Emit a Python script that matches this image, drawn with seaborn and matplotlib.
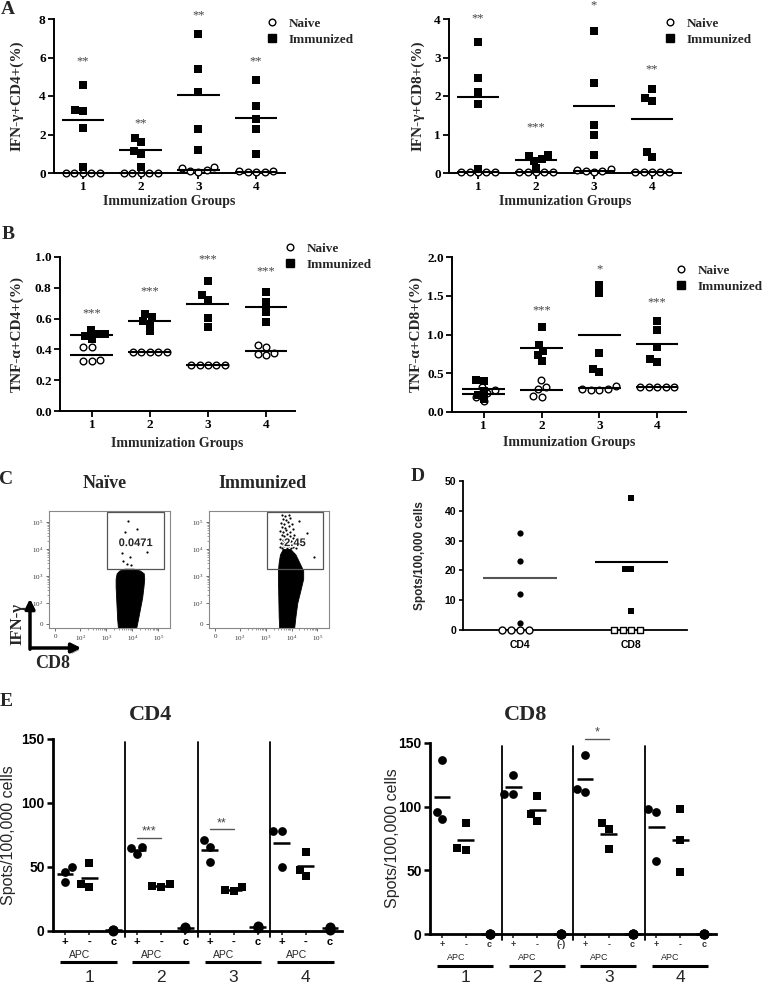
import warnings
warnings.filterwarnings("ignore")
import numpy as np
import pandas as pd
import matplotlib
matplotlib.use("Agg")
import matplotlib.pyplot as plt
import matplotlib.transforms as mtransforms
import matplotlib.patheffects as pe
from matplotlib.lines import Line2D
from matplotlib.patches import Rectangle, FancyArrowPatch
import seaborn as sns

sns.set_theme(style="ticks")
SERIF = ["Liberation Serif", "DejaVu Serif"]
SANS = ["Liberation Sans", "DejaVu Sans"]
plt.rcParams["font.family"] = SERIF
plt.rcParams["mathtext.default"] = "regular"

# ---------------- data ----------------
GROUPS = ["1", "2", "3", "4"]

# Panel A : IFN-gamma+ CD4 / CD8 (%)
A_CD4_NAIVE = [[0.02, 0.02, 0.02, 0.02, 0.02], [0.02, 0.02, 0.02, 0.02, 0.02],
               [0.15, 0.30, 0.25, 0.05, 0.10], [0.05, 0.08, 0.10, 0.06, 0.05]]
A_CD4_IMM = [[4.55, 3.23, 3.26, 2.33, 0.33], [1.63, 1.84, 1.16, 0.97, 0.33],
             [7.22, 5.42, 4.20, 2.29, 1.18], [4.81, 3.50, 2.81, 2.29, 0.99]]
A_CD4_SIG = ["**", "**", "**", "**"]
A_CD4_SIG_Y = [5.8, 2.6, 8.2, 5.8]

A_CD8_NAIVE = [[0.02, 0.02, 0.02, 0.02, 0.02], [0.02, 0.02, 0.02, 0.02, 0.02],
               [0.08, 0.10, 0.02, 0.05, 0.05], [0.02, 0.02, 0.02, 0.02, 0.02]]
A_CD8_IMM = [[3.40, 2.46, 2.11, 1.78, 0.10], [0.47, 0.37, 0.32, 0.45, 0.14],
             [3.68, 2.35, 1.25, 0.99, 0.46], [2.18, 1.88, 1.96, 0.55, 0.41]]
A_CD8_SIG = ["**", "***", "*", "**"]
A_CD8_SIG_Y = [4.03, 1.19, 4.35, 2.68]

# Panel B : TNF-alpha+ CD4 / CD8 (%)
B_CD4_NAIVE = [[0.417, 0.417, 0.326, 0.322, 0.330], [0.38, 0.38, 0.38, 0.38, 0.38],
               [0.30, 0.30, 0.30, 0.30, 0.30], [0.426, 0.417, 0.378, 0.363, 0.372]]
B_CD4_IMM = [[0.502, 0.487, 0.500, 0.467, 0.526], [0.630, 0.567, 0.583, 0.611, 0.517],
             [0.843, 0.724, 0.754, 0.604, 0.543], [0.774, 0.709, 0.641, 0.580]]
B_CD4_SIG = ["***", "***", "***", "***"]
B_CD4_SIG_Y = [0.637, 0.778, 0.985, 0.909]

B_CD8_NAIVE = [[0.19, 0.145, 0.28, 0.32, 0.24], [0.408, 0.292, 0.326, 0.197, 0.206],
               [0.34, 0.30, 0.29, 0.30, 0.29], [0.32, 0.32, 0.32, 0.32, 0.32]]
B_CD8_IMM = [[0.40, 0.41, 0.27, 0.22, 0.17], [1.094, 0.863, 0.79, 0.734, 0.657],
             [1.64, 1.54, 0.755, 0.55, 0.51], [1.17, 1.06, 0.84, 0.68, 0.65]]
B_CD8_SIG = ["", "***", "*", "***"]
B_CD8_SIG_Y = [0.0, 1.31, 1.845, 1.414]

# Panel C : flow cytometry (axis units = decades; CD8 on x, IFN-gamma on y)
FLOW_X_TICKS = [1.04, 2, 3, 4, 5]
FLOW_Y_TICKS = [1.22, 2, 3, 4, 5]
FLOW_TICK_LABELS = ["0", "$10^2$", "$10^3$", "$10^4$", "$10^5$"]
NAIVE_BLOB_Y = [1.07, 1.4, 1.8, 2.2, 2.6, 2.9, 3.1, 3.2, 3.27]
NAIVE_BLOB_L = [3.45, 3.42, 3.40, 3.38, 3.36, 3.36, 3.40, 3.50, 3.70]
NAIVE_BLOB_R = [4.15, 4.22, 4.30, 4.38, 4.43, 4.46, 4.44, 4.30, 4.05]
NAIVE_EVENTS_X = [3.85, 3.72, 3.62, 3.92, 3.78, 4.55, 4.20, 3.95, 3.66]
NAIVE_EVENTS_Y = [5.05, 4.62, 3.85, 3.70, 3.45, 3.90, 4.75, 3.40, 3.55]
NAIVE_GATE = [3.04, 5.23, 3.26, 5.37]
NAIVE_PCT = "0.0471"
IMM_BLOB_Y = [1.07, 1.5, 2.0, 2.5, 2.9, 3.2, 3.5, 3.8, 4.0]
IMM_BLOB_L = [3.52, 3.50, 3.49, 3.48, 3.47, 3.47, 3.50, 3.55, 3.66]
IMM_BLOB_R = [4.10, 4.15, 4.22, 4.35, 4.45, 4.45, 4.30, 4.15, 3.95]
IMM_EVENTS_X = [3.55, 3.63, 3.71, 3.82, 3.89, 3.97, 4.07, 4.16, 3.58, 3.67, 3.74, 3.85,
                3.93, 4.01, 4.12, 3.54, 3.65, 3.76, 3.87, 3.96, 4.06, 3.61, 3.69, 3.83,
                3.92, 4.09, 3.57, 3.68, 3.79, 3.95, 3.63, 3.74, 3.91, 4.04, 3.58, 3.72,
                3.86, 4.00, 3.66, 3.80, 3.95, 3.62, 3.76, 3.90, 4.85, 4.60, 4.30]
IMM_EVENTS_Y = [4.07, 4.03, 4.10, 4.05, 4.12, 4.02, 4.09, 4.04, 4.22, 4.18, 4.26, 4.20,
                4.24, 4.17, 4.21, 4.38, 4.33, 4.41, 4.36, 4.31, 4.39, 4.52, 4.49, 4.55,
                4.47, 4.51, 4.66, 4.63, 4.70, 4.64, 4.81, 4.78, 4.84, 4.76, 4.96, 4.93,
                4.99, 4.91, 5.12, 5.08, 5.15, 5.26, 5.22, 5.28, 3.70, 4.60, 5.05]
IMM_GATE = [3.04, 5.23, 3.26, 5.37]
IMM_PCT = "2.45"

# Panel D : ELISPOT responders (filled) / non-responders (open, at 0)
D_CELLS = ["CD4", "CD8"]
D_CD4_POS = [32.7, 23.0, 12.0, 2.3]
D_CD4_NEG = [0, 0, 0, 0]
D_CD8_POS = [44.3, 20.5, 20.5, 6.3]
D_CD8_NEG = [0, 0, 0, 0]

# Panel E : ELISPOT with (+) / without (-) APC and control (c)
E_CD4_PLUS = [[50, 38, 46], [66, 65, 60], [71, 65.5, 54], [78, 78, 50]]
E_CD4_MINUS = [[53, 34, 37], [37, 34, 35], [34, 31, 32], [62, 43, 48]]
E_CD4_CTRL = [[0.5, 1, 0], [2, 3, 2], [3, 2, 4], [2, 3, 1]]
E_CD4_TICKS = ["+", "-", "c"] * 4
E_CD4_SIG = [(1, "***", 72.8, 78.0), (2, "**", 79.7, 84.4)]

E_CD8_PLUS = [[137, 95.6, 90], [125, 110.3, 110.3], [140.8, 111.3, 114.2], [98, 95.9, 57.5]]
E_CD8_MINUS = [[86.8, 65.8, 67.9], [108.4, 88.8, 94], [86.8, 82.3, 66.4], [98, 74.2, 48.3]]
E_CD8_CTRL = [[0, 0, 0], [0, 0, 0], [0, 0, 0], [0, 0, 0]]
E_CD8_TICKS = ["+", "-", "c", "+", "-", "(-)", "+", "-", "c", "+", "-", "c"]
E_CD8_SIG = [(2, "*", 153.0, 158.0)]

# ---------------- figure ----------------
W, H = 766, 985
fig = plt.figure(figsize=(W / 100, H / 100), dpi=100)


def px_axes(l, t, r, b):
    return fig.add_axes([l / W, 1 - b / H, (r - l) / W, (b - t) / H])


def fx(x):
    return x / W


def fy(y):
    return 1 - y / H


def ax_xfrac(ax, xpx):
    pos = ax.get_position()
    return (xpx / W - pos.x0) / pos.width


def ax_yfrac(ax, ypx):
    pos = ax.get_position()
    return ((1 - ypx / H) - pos.y0) / pos.height


def letter(x, y, s):
    fig.text(fx(x), fy(y), s, fontsize=14, fontweight="bold", family=SERIF,
             ha="center", va="center")


MS = 4.8


def dot_panel(rect, naive, imm, sig, sig_y, ylim, yticks, ytl, xlim, ylabel,
              ylabel_x, xlabel_y, legend_xy):
    ax = px_axes(*rect)
    rows = []
    for g, vals in zip(GROUPS, naive):
        rows += [{"group": g, "value": v, "status": "Naive"} for v in vals]
    for g, vals in zip(GROUPS, imm):
        rows += [{"group": g, "value": v, "status": "Immunized"} for v in vals]
    df = pd.DataFrame(rows)
    ax.set_ylim(*ylim)
    sns.swarmplot(data=df[df.status == "Naive"], x="group", y="value", order=GROUPS,
                  marker="o", color="white", edgecolor="black", linewidth=1.0,
                  size=MS, ax=ax)
    sns.swarmplot(data=df[df.status == "Immunized"], x="group", y="value", order=GROUPS,
                  marker="s", color="black", edgecolor="black", linewidth=0,
                  size=MS + 0.3, ax=ax)
    for c in ax.collections:
        c.set_clip_on(False)
        c.set_zorder(4)
    means = df.groupby(["status", "group"])["value"].mean()
    for (status, g), m in means.items():
        i = GROUPS.index(g)
        ax.hlines(m, i - 0.37, i + 0.37, color="black", lw=1.5, zorder=5, clip_on=False)
    for i, (s, y) in enumerate(zip(sig, sig_y)):
        if s:
            ax.text(i, y, s, ha="center", va="center", fontsize=9, color="#444",
                    family=SERIF, clip_on=False)
    ax.set_xlim(*xlim)
    ax.set_ylim(*ylim)
    ax.set_yticks(yticks)
    ax.set_yticklabels(ytl)
    sns.despine(ax=ax)
    for sp in ("left", "bottom"):
        ax.spines[sp].set_linewidth(1.4)
        ax.spines[sp].set_color("black")
    ax.tick_params(axis="both", width=1.3, length=4, labelsize=9.5, pad=2, colors="black")
    for lab in ax.get_xticklabels() + ax.get_yticklabels():
        lab.set_fontweight("bold")
        lab.set_family(SERIF)
    ax.set_ylabel(ylabel, fontsize=11, fontweight="bold", family=SERIF)
    ax.yaxis.set_label_coords(ax_xfrac(ax, ylabel_x), 0.5)
    ax.yaxis.label.set_va("center")
    ax.set_xlabel("Immunization Groups", fontsize=10, fontweight="bold", family=SERIF)
    ax.xaxis.set_label_coords(0.5, ax_yfrac(ax, xlabel_y))
    ax.xaxis.label.set_va("center")
    handles = [Line2D([], [], marker="o", ls="none", mfc="white", mec="black", mew=1.0,
                      ms=MS, label="Naive"),
               Line2D([], [], marker="s", ls="none", mfc="black", mec="black", ms=MS + 0.3,
                      label="Immunized")]
    mx, my = legend_xy
    ax.legend(handles=handles, loc="upper left", bbox_to_anchor=(fx(mx - 7), fy(my - 4.5)),
              bbox_transform=fig.transFigure, frameon=False, borderpad=0,
              borderaxespad=0, handlelength=1.0, handletextpad=0.8, labelspacing=0.28,
              prop={"family": SERIF, "weight": "bold", "size": 9.5})
    return ax


# ---- Panel A ----
dot_panel((54, 19, 285, 173), A_CD4_NAIVE, A_CD4_IMM, A_CD4_SIG, A_CD4_SIG_Y, (0, 8),
          [0, 2, 4, 6, 8], ["0", "2", "4", "6", "8"], (-0.5, 3.5), "IFN-γ+CD4+(%)",
          17, 202, (272, 22))
dot_panel((449, 19, 681, 173), A_CD8_NAIVE, A_CD8_IMM, A_CD8_SIG, A_CD8_SIG_Y, (0, 4),
          [0, 1, 2, 3, 4], ["0", "1", "2", "3", "4"], (-0.5, 3.5), "IFN-γ+CD8+(%)",
          418, 202, (670, 22))
letter(8, 10, "A")

# ---- Panel B ----
dot_panel((60, 257, 295, 411), B_CD4_NAIVE, B_CD4_IMM, B_CD4_SIG, B_CD4_SIG_Y, (0, 1.0),
          [0, 0.2, 0.4, 0.6, 0.8, 1.0], ["0.0", "0.2", "0.4", "0.6", "0.8", "1.0"],
          (-0.55, 3.5), "TNF-α+CD4+(%)", 17, 443, (290, 247))
dot_panel((452, 257, 686, 412), B_CD8_NAIVE, B_CD8_IMM, B_CD8_SIG, B_CD8_SIG_Y, (0, 2.0),
          [0, 0.5, 1.0, 1.5, 2.0], ["0.0", "0.5", "1.0", "1.5", "2.0"],
          (-0.55, 3.5), "TNF-α+CD8+(%)", 416, 443, (681, 269))
letter(8, 235, "B")


# ---- Panel C ----
def flow_panel(rect, by, bl, br, ex, ey, gate, pct, title, title_x):
    ax = px_axes(*rect)
    ax.fill_betweenx(by, bl, br, color="black", lw=0.6, zorder=2)
    sns.scatterplot(x=ex, y=ey, s=2.5, color="black", linewidth=0, ax=ax, zorder=2,
                    legend=False)
    ax.add_patch(Rectangle((gate[0], gate[2]), gate[1] - gate[0], gate[3] - gate[2],
                           fill=False, ec="#555", lw=0.9, zorder=3))
    ax.text((gate[0] + gate[1]) / 2, 4.22, pct, ha="center", va="center", fontsize=8,
            fontweight="bold", family=SANS, zorder=4,
            path_effects=[pe.withStroke(linewidth=2, foreground="white")])
    ax.set_xlim(0.8, 5.45)
    ax.set_ylim(1.07, 5.41)
    ax.set_xticks(FLOW_X_TICKS)
    ax.set_xticklabels(FLOW_TICK_LABELS)
    ax.set_yticks(FLOW_Y_TICKS)
    ax.set_yticklabels(FLOW_TICK_LABELS)
    minor = [d + np.log10(k) for d in (2, 3, 4) for k in range(2, 10)]
    ax.set_xticks(minor, minor=True)
    ax.set_yticks(minor, minor=True)
    ax.tick_params(axis="both", which="major", length=2.5, width=0.5, labelsize=5,
                   colors="#333", pad=1.5)
    ax.tick_params(axis="both", which="minor", length=1.2, width=0.4, colors="#555")
    for sp in ax.spines.values():
        sp.set_color("#888")
        sp.set_linewidth(0.8)
    ax.set_xlabel("")
    ax.set_ylabel("")
    fig.text(fx(title_x), fy(484), title, fontsize=13, fontweight="bold", family=SERIF,
             ha="center", va="center")
    return ax


flow_panel((49, 511, 170, 628), NAIVE_BLOB_Y, NAIVE_BLOB_L, NAIVE_BLOB_R,
           NAIVE_EVENTS_X, NAIVE_EVENTS_Y, NAIVE_GATE, NAIVE_PCT, "Naïve", 105)
flow_panel((209, 511, 329, 628), IMM_BLOB_Y, IMM_BLOB_L, IMM_BLOB_R,
           IMM_EVENTS_X, IMM_EVENTS_Y, IMM_GATE, IMM_PCT, "Immunized", 262)
letter(6, 479, "C")

shadow = [pe.SimplePatchShadow(offset=(1.5, -1.5), alpha=0.35), pe.Normal()]
fig.add_artist(FancyArrowPatch((fx(30), fy(652)), (fx(30), fy(596)),
                               transform=fig.transFigure, arrowstyle="-|>",
                               mutation_scale=14, lw=2.5, color="black",
                               path_effects=shadow))
fig.add_artist(FancyArrowPatch((fx(28), fy(648)), (fx(84), fy(648)),
                               transform=fig.transFigure, arrowstyle="-|>",
                               mutation_scale=14, lw=2.5, color="black",
                               path_effects=shadow))
fig.text(fx(17), fy(624), "IFN-γ", rotation=90, fontsize=12, fontweight="bold",
         family=SERIF, ha="center", va="center")
fig.text(fx(53), fy(664), "CD8", fontsize=13, fontweight="bold", family=SERIF,
         ha="center", va="center")

# ---- Panel D ----
axD = px_axes(463, 481, 687, 630)
dfD = pd.DataFrame(
    [{"cell": "CD4", "value": v, "resp": True} for v in D_CD4_POS]
    + [{"cell": "CD4", "value": v, "resp": False} for v in D_CD4_NEG]
    + [{"cell": "CD8", "value": v, "resp": True} for v in D_CD8_POS]
    + [{"cell": "CD8", "value": v, "resp": False} for v in D_CD8_NEG])
axD.set_ylim(0, 50)
sns.swarmplot(data=dfD[(dfD.cell == "CD4") & dfD.resp], x="cell", y="value", order=D_CELLS,
              marker="o", color="black", linewidth=0, size=4.5, ax=axD)
sns.swarmplot(data=dfD[(dfD.cell == "CD4") & ~dfD.resp], x="cell", y="value", order=D_CELLS,
              marker="o", color="white", edgecolor="black", linewidth=1.0, size=5.0, ax=axD)
sns.swarmplot(data=dfD[(dfD.cell == "CD8") & dfD.resp], x="cell", y="value", order=D_CELLS,
              marker="s", color="black", linewidth=0, size=4.6, ax=axD)
sns.swarmplot(data=dfD[(dfD.cell == "CD8") & ~dfD.resp], x="cell", y="value", order=D_CELLS,
              marker="s", color="white", edgecolor="black", linewidth=1.0, size=4.8, ax=axD)
for c in axD.collections:
    c.set_clip_on(False)
    c.set_zorder(4)
d_means = dfD[dfD.resp].groupby("cell")["value"].mean()
for i, cell in enumerate(D_CELLS):
    axD.hlines(d_means[cell], i - 0.33, i + 0.33, color="#555" if cell == "CD4" else "black",
               lw=1.5, zorder=5)
axD.set_xlim(-0.51, 1.5)
axD.set_ylim(0, 50)
axD.set_yticks([0, 10, 20, 30, 40, 50])
sns.despine(ax=axD)
for sp in ("left", "bottom"):
    axD.spines[sp].set_linewidth(1.3)
    axD.spines[sp].set_color("black")
axD.tick_params(axis="y", width=1.2, length=3, labelsize=7.5, pad=2, colors="black")
axD.tick_params(axis="x", length=0, labelsize=7.5, pad=7, colors="black")
for lab in axD.get_xticklabels() + axD.get_yticklabels():
    lab.set_fontweight("bold")
    lab.set_family(SANS)
axD.set_xlabel("")
axD.set_ylabel("Spots/100,000 cells", fontsize=8.5, fontweight="bold", family=SANS)
axD.yaxis.set_label_coords(ax_xfrac(axD, 420), 0.5)
axD.yaxis.label.set_va("center")
letter(418, 477, "D")


# ---- Panel E ----
def elispot_panel(rect, plus, minus, ctrl, ticks, sig, title, title_x, ylabel_x,
                  tick_fs, tick_color, apc_fs, ypx):
    ax = px_axes(*rect)
    cats = [f"{g}{k}" for g in GROUPS for k in ("+", "-", "c")]
    rows = []
    for g, p, m, c in zip(GROUPS, plus, minus, ctrl):
        rows += [{"cat": f"{g}+", "value": v, "kind": "+"} for v in p]
        rows += [{"cat": f"{g}-", "value": v, "kind": "-"} for v in m]
        rows += [{"cat": f"{g}c", "value": v, "kind": "c"} for v in c]
    df = pd.DataFrame(rows)
    ax.set_ylim(0, 150)
    sns.swarmplot(data=df[df.kind == "+"], x="cat", y="value", order=cats, marker="o",
                  color="black", linewidth=0, size=6.3, ax=ax)
    sns.swarmplot(data=df[df.kind == "-"], x="cat", y="value", order=cats, marker="s",
                  color="black", linewidth=0, size=6.3, ax=ax)
    sns.stripplot(data=df[df.kind == "c"], x="cat", y="value", order=cats, marker="o",
                  color="black", linewidth=0, size=7.2, jitter=False, ax=ax)
    for c in ax.collections:
        c.set_clip_on(False)
        c.set_zorder(4)
    means = df.groupby("cat")["value"].mean()
    for i, cat in enumerate(cats):
        ax.hlines(means[cat], i - 0.35, i + 0.35, color="black", lw=1.8, zorder=5,
                  clip_on=False)
    ax.set_xlim(-0.5, len(cats) - 0.5)
    ax.set_ylim(0, 150)
    for k in range(1, len(GROUPS)):
        ax.axvline(3 * k - 0.5, ymin=-0.03, ymax=0.985, color="black", lw=1.3,
                   clip_on=False, zorder=3)
    ax.set_yticks([0, 50, 100, 150])
    ax.set_xticks(range(len(cats)))
    ax.set_xticklabels(ticks)
    sns.despine(ax=ax)
    for sp in ("left", "bottom"):
        ax.spines[sp].set_linewidth(2.0)
        ax.spines[sp].set_color("black")
    ax.tick_params(axis="y", width=1.8, length=4, labelsize=10, pad=2, colors="black")
    ax.tick_params(axis="x", width=1.2, length=3, labelsize=tick_fs, pad=1.5,
                   labelcolor=tick_color)
    for lab in ax.get_yticklabels() + ax.get_xticklabels():
        lab.set_fontweight("bold")
        lab.set_family(SANS)
    ax.set_xlabel("")
    ax.set_ylabel("Spots/100,000 cells", fontsize=11.5, family=SANS)
    ax.yaxis.set_label_coords(ax_xfrac(ax, ylabel_x), 0.5)
    ax.yaxis.label.set_va("center")
    trans = mtransforms.blended_transform_factory(ax.transData, ax.transAxes)
    apc_y, line_y, num_y = (ax_yfrac(ax, v) for v in ypx)
    for gi, g in enumerate(GROUPS):
        ax.text(3 * gi + 0.6, apc_y, "APC", transform=trans, ha="center", va="center",
                fontsize=apc_fs, family=SANS)
        ax.plot([3 * gi - 0.2, 3 * gi + 2.15], [line_y, line_y], transform=trans,
                color="black", lw=2.2, clip_on=False, solid_capstyle="butt")
        ax.text(3 * gi + 1, num_y, g, transform=trans, ha="center", va="center",
                fontsize=12.5, family=SANS)
    for gi, stars, ly, ty in sig:
        ax.plot([3 * gi, 3 * gi + 1], [ly, ly], color="#555", lw=1.0, clip_on=False)
        ax.text(3 * gi + 0.5, ty, stars, ha="center", va="center", fontsize=9,
                color="#444", family=SANS)
    fig.text(fx(title_x), fy(715), title, fontsize=16, fontweight="bold", family=SERIF,
             ha="center", va="center")
    return ax


elispot_panel((53, 739, 342, 931), E_CD4_PLUS, E_CD4_MINUS, E_CD4_CTRL, E_CD4_TICKS,
              E_CD4_SIG, "CD4", 151, 9, 8, "black", 7.5, (955, 962, 977))
elispot_panel((430, 743, 716, 934), E_CD8_PLUS, E_CD8_MINUS, E_CD8_CTRL, E_CD8_TICKS,
              E_CD8_SIG, "CD8", 526, 392, 6.5, "#333", 6.5, (958, 966, 978))
letter(6, 702, "E")

fig.savefig("out.png", dpi=100)
